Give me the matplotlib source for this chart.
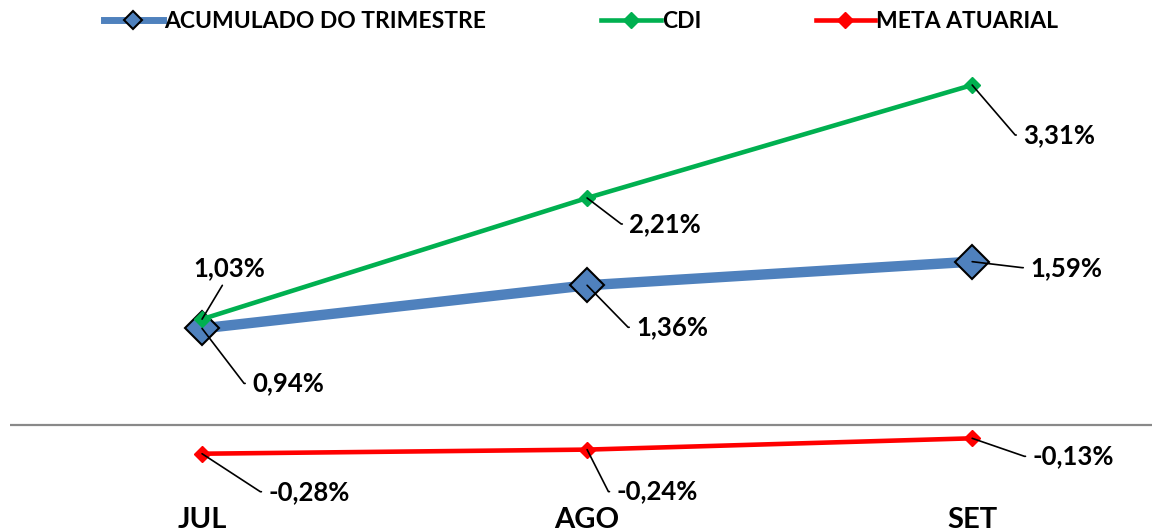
import matplotlib
matplotlib.use("Agg")
import matplotlib.pyplot as plt
from matplotlib.lines import Line2D

plt.rcParams['font.family'] = ['Lato', 'DejaVu Sans']
plt.rcParams['font.weight'] = 'bold'

meses = ['JUL', 'AGO', 'SET']
acumulado = [0.94, 1.36, 1.59]
cdi = [1.03, 2.21, 3.31]
meta = [-0.28, -0.24, -0.13]

# posicao dos rotulos (offset em pixels a partir do ponto)
off_acum = [(86, -55), (85, -42), (94, -6)]
off_cdi = [(27, 51), (78, -26), (87, -50)]
off_meta = [(107, -38), (70, -42), (101, -18)]

azul = '#4F81BD'
verde = '#00B050'
vermelho = '#FF0000'

fig = plt.figure(figsize=(11.52, 5.32), dpi=100)
ax = fig.add_axes([10 / 1152, 37 / 532, 1142 / 1152, 445 / 532])

x = range(len(meses))
ax.axhline(0, color='#898989', lw=1.6, zorder=1)
ax.plot(x, acumulado, color=azul, lw=7.5, marker='D', ms=17.5,
        mfc=azul, mec='black', mew=1.5, zorder=3)
ax.plot(x, cdi, color=verde, lw=3.3, marker='D', ms=8,
        mfc=verde, mec=verde, zorder=4)
ax.plot(x, meta, color=vermelho, lw=3.3, marker='D', ms=8,
        mfc=vermelho, mec=vermelho, zorder=4)


def rotulo(xi, yi, off, up=False):
    txt = f'{yi:.2f}%'.replace('.', ',')
    if up:
        ap = dict(arrowstyle='-', color='black', lw=1.2, shrinkA=2, shrinkB=0,
                  relpos=(0.45, 0.0))
    else:
        ap = dict(arrowstyle='-', color='black', lw=1.2, shrinkA=3, shrinkB=0,
                  relpos=(0.0, 0.5),
                  connectionstyle='arc,angleA=180,armA=8,angleB=0,armB=0,rad=0')
    ax.annotate(txt, xy=(xi, yi), xytext=off, textcoords='offset pixels',
                ha='center', va='center', fontsize=18.5, fontweight='bold',
                arrowprops=ap, zorder=5)


for i in x:
    rotulo(i, acumulado[i], off_acum[i])
    rotulo(i, cdi[i], off_cdi[i], up=(i == 0))
    rotulo(i, meta[i], off_meta[i])

ax.set_xlim(-0.4987, 2.467)
ax.set_ylim(-0.682, 3.651)
ax.set_xticks(list(x))
ax.set_xticklabels(meses, fontsize=21, fontweight='bold')
ax.tick_params(axis='x', length=0, pad=9)
ax.set_yticks([])
for s in ax.spines.values():
    s.set_visible(False)

handles = [
    Line2D([], [], color=azul, lw=5, marker='D', ms=9, mfc=azul, mec='black', mew=1.5),
    Line2D([], [], color=verde, lw=3.3, marker='D', ms=8, mfc=verde, mec=verde),
    Line2D([], [], color=vermelho, lw=3.3, marker='D', ms=8, mfc=vermelho, mec=vermelho),
]
fig.legend(handles, ['ACUMULADO DO TRIMESTRE', 'CDI', 'META ATUARIAL'],
           loc='center', bbox_to_anchor=(581 / 1152, 1 - 22 / 532), ncol=3,
           frameon=False, prop={'size': 16.5, 'weight': 'bold'},
           handlelength=2.6, handletextpad=0.05, columnspacing=5.0)

fig.savefig('out.png', dpi=100)
